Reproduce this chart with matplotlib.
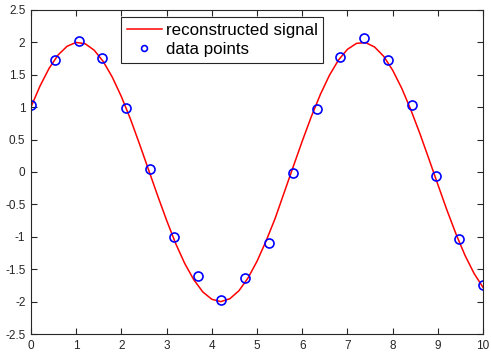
import numpy as np
import matplotlib
matplotlib.use("Agg")
import matplotlib.pyplot as plt

plt.rcParams['font.family'] = ['Liberation Sans', 'DejaVu Sans']

# reconstructed signal, every 0.2
curve_x = [0.0, 0.2, 0.4, 0.6, 0.8, 1.0, 1.2, 1.4, 1.6, 1.8,
           2.0, 2.2, 2.4, 2.6, 2.8, 3.0, 3.2, 3.4, 3.6, 3.8,
           4.0, 4.2, 4.4, 4.6, 4.8, 5.0, 5.2, 5.4, 5.6, 5.8,
           6.0, 6.2, 6.4, 6.6, 6.8, 7.0, 7.2, 7.4, 7.6, 7.8,
           8.0, 8.2, 8.4, 8.6, 8.8, 9.0, 9.2, 9.4, 9.6, 9.8, 10.0]
curve_y = [1.000, 1.324, 1.596, 1.804, 1.939, 1.998, 1.977, 1.877, 1.703, 1.461,
           1.162, 0.817, 0.433, 0.036, -0.362, -0.745, -1.103, -1.410, -1.661, -1.850,
           -1.964, -2.000, -1.955, -1.832, -1.636, -1.377, -1.065, -0.717, -0.318, 0.081,
           0.476, 0.853, 1.195, 1.490, 1.725, 1.892, 1.983, 1.995, 1.927, 1.784,
           1.568, 1.290, 0.960, 0.594, 0.202, -0.197, -0.590, -0.957, -1.288, -1.566, -1.783]

# sampled data points
pts_x = [0.0, 0.526, 1.053, 1.579, 2.105, 2.632, 3.158, 3.684, 4.211, 4.737,
         5.263, 5.789, 6.316, 6.842, 7.368, 7.895, 8.421, 8.947, 9.474, 10.0]
pts_y = [1.04, 1.72, 2.02, 1.75, 0.99, 0.04, -1.01, -1.60, -1.98, -1.63,
         -1.09, -0.02, 0.97, 1.77, 2.07, 1.72, 1.04, -0.07, -1.03, -1.75]

fig = plt.figure(figsize=(4.91, 3.52), dpi=100)
ax = fig.add_axes([0.063, 0.051, 0.921, 0.921])

ax.plot(curve_x, curve_y, color='red', lw=1.1, label='reconstructed signal')
ax.plot(pts_x, pts_y, 'o', mfc='none', mec='blue', ms=6.5, mew=1.2, label='data points')

ax.set_xlim(0, 10)
ax.set_ylim(-2.5, 2.5)
ax.set_xticks(np.arange(0, 11, 1))
ax.set_yticks(np.arange(-2.5, 2.51, 0.5))
ax.set_yticklabels(['-2.5', '-2', '-1.5', '-1', '-0.5', '0', '0.5', '1', '1.5', '2', '2.5'])
ax.tick_params(direction='in', top=True, right=True, length=4, width=0.8,
               labelsize=8.5, colors='#262626', pad=4)
for s in ax.spines.values():
    s.set_color('#262626')
    s.set_linewidth(0.8)

leg = ax.legend(loc='upper left', bbox_to_anchor=(0.199, 0.978), borderaxespad=0,
                fontsize=12.2, fancybox=False, framealpha=1, edgecolor='#262626',
                handlelength=2.1, handletextpad=0.2, borderpad=0.34, labelspacing=0.25,
                markerscale=0.65)
leg.get_frame().set_linewidth(0.8)

fig.savefig('out.png', dpi=100)
